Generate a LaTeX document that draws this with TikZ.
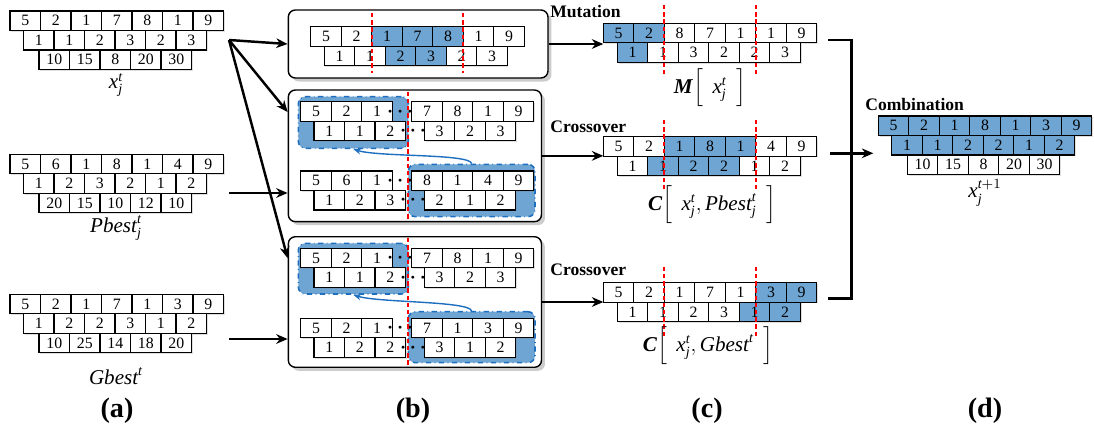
\documentclass[tikz,border=0pt]{standalone}
\usepackage{amsmath}
\usepackage{fontspec}
\setmainfont{Liberation Serif}
\usetikzlibrary{arrows.meta,shadows,calc}
\definecolor{cellblue}{HTML}{6FA5D2}
\definecolor{grpblue}{HTML}{1F6FC0}
\newcommand\mi[1]{\textit{#1}}
% one row of gene cells: name, left x, top y, list of value/style
\newcommand\cellrow[4]{%
  \foreach \val/\sty [count=\i] in {#4}
    \node[cell,\sty] (#1-\i) at ({#2+(\i-0.5)*30.5},{#3+9.75}) {\val};}
\tikzset{
  cell/.style={draw,line width=0.6pt,minimum width=0.61cm,minimum height=0.39cm,inner sep=0pt,outer sep=0pt,
    font=\fontsize{9}{10}\selectfont,drop shadow={shadow xshift=0.7pt,shadow yshift=-0.7pt,opacity=0.25}},
  wc/.style={fill=white},
  bc/.style={fill=cellblue},
  panel/.style={draw,line width=0.8pt,rounded corners=4pt,fill=white,inner sep=0pt,
    drop shadow={shadow xshift=2pt,shadow yshift=-2pt,opacity=0.4}},
  grp/.style={draw=grpblue,dash dot,line width=0.9pt,fill=cellblue,rounded corners=4pt,inner sep=0pt},
  cutline/.style={draw=red,line width=1.2pt,dash pattern=on 2.5pt off 1.6pt},
  arr/.style={-{Stealth[length=6.5pt,width=5.5pt]},line width=1.4pt},
  barr/.style={-{Stealth[length=4.5pt,width=3.5pt]},line width=0.8pt,grpblue},
  dots/.style={inner sep=0pt,font=\fontsize{11}{12}\selectfont\boldmath},
  optag/.style={font=\fontsize{10}{12}\selectfont\bfseries,anchor=west,inner sep=0pt},
  lbl/.style={font=\fontsize{12}{14}\selectfont,inner sep=0pt},
  figtag/.style={font=\fontsize{16}{18}\selectfont\bfseries,inner sep=0pt}
}
\begin{document}
\begin{tikzpicture}[x=0.02cm,y=-0.02cm]
\useasboundingbox (0,0) rectangle (1094,439);

% (a) current, personal best and global best
\cellrow{xa1}{10}{11}{5/wc,2/wc,1/wc,7/wc,8/wc,1/wc,9/wc}
\cellrow{xa2}{23.5}{30.5}{1/wc,1/wc,2/wc,3/wc,2/wc,3/wc}
\cellrow{xa3}{39}{50}{10/wc,15/wc,8/wc,20/wc,30/wc}
\node[lbl] (xlab) at (116,85) {$\mi{x}^{\mi{t}}_{\mi{j}}$};
\cellrow{pa1}{10}{154.3}{5/wc,6/wc,1/wc,8/wc,1/wc,4/wc,9/wc}
\cellrow{pa2}{23.5}{173.8}{1/wc,2/wc,3/wc,2/wc,1/wc,2/wc}
\cellrow{pa3}{39}{193.3}{20/wc,15/wc,10/wc,12/wc,10/wc}
\node[lbl] (plab) at (116,228) {$\mi{Pbest}^{\mi{t}}_{\mi{j}}$};
\cellrow{ga1}{10}{294.3}{5/wc,2/wc,1/wc,7/wc,1/wc,3/wc,9/wc}
\cellrow{ga2}{23.5}{313.8}{1/wc,2/wc,2/wc,3/wc,1/wc,2/wc}
\cellrow{ga3}{39}{333.3}{10/wc,25/wc,14/wc,18/wc,20/wc}
\node[lbl] (glab) at (116,376) {$\mi{Gbest}^{\mi{t}}$};

% (b) panels
\node[panel,minimum width=5.194cm,minimum height=1.36cm] (pM) at (418.15,44) {};
\node[panel,minimum width=5.064cm,minimum height=2.634cm] (pP) at (414.9,155.85) {};
\node[panel,minimum width=5.064cm,minimum height=2.612cm] (pG) at (414.9,302) {};

\cellrow{bm1}{310.7}{26.7}{5/wc,2/wc,1/bc,7/bc,8/bc,1/wc,9/wc}
\cellrow{bm2}{324.2}{46.2}{1/wc,1/wc,2/bc,3/bc,2/wc,3/wc}
\draw[cutline] (371.7,13) -- (371.7,73);
\draw[cutline] (463.2,13) -- (463.2,73);

\node[grp,minimum width=2.2cm,minimum height=1.032cm] (lP) at (353.3,122.5) {};
\node[grp,minimum width=2.534cm,minimum height=1.048cm] (rP) at (471.65,190.5) {};
\cellrow{pA1}{300.7}{101.7}{5/wc,2/wc,1/wc}
\cellrow{pA1r}{411.7}{101.7}{7/wc,8/wc,1/wc,9/wc}
\cellrow{pA2}{314}{121.2}{1/wc,1/wc,2/wc}
\cellrow{pA2r}{424.3}{121.2}{3/wc,2/wc,3/wc}
\cellrow{pB1}{300.7}{171}{5/wc,6/wc,1/wc}
\cellrow{pB1r}{411.7}{171}{8/wc,1/wc,4/wc,9/wc}
\cellrow{pB2}{314}{190.5}{1/wc,2/wc,3/wc}
\cellrow{pB2r}{424.3}{190.5}{2/wc,1/wc,2/wc}
\node[dots] at ($(pA1-3.east)!0.5!(pA1r-1.west)$) {$\cdots$};
\node[dots] at ($(pA2-3.east)!0.5!(pA2r-1.west)$) {$\cdots$};
\node[dots] at ($(pB1-3.east)!0.5!(pB1r-1.west)$) {$\cdots$};
\node[dots] at ($(pB2-3.east)!0.5!(pB2r-1.west)$) {$\cdots$};
\draw[cutline] (407.7,91.7) -- (407.7,220);
\draw[barr] (rP.north) .. controls +(-2,-10) and +(25,8) .. (lP.south);

\node[grp,minimum width=2.2cm,minimum height=1.014cm] (lG) at (353.3,268.65) {};
\node[grp,minimum width=2.534cm,minimum height=1.02cm] (rG) at (471.65,337.2) {};
\cellrow{gA1}{300.7}{248.3}{5/wc,2/wc,1/wc}
\cellrow{gA1r}{411.7}{248.3}{7/wc,8/wc,1/wc,9/wc}
\cellrow{gA2}{314}{267.8}{1/wc,1/wc,2/wc}
\cellrow{gA2r}{424.3}{267.8}{3/wc,2/wc,3/wc}
\cellrow{gB1}{300.7}{318.3}{5/wc,2/wc,1/wc}
\cellrow{gB1r}{411.7}{318.3}{7/wc,1/wc,3/wc,9/wc}
\cellrow{gB2}{314}{337.8}{1/wc,2/wc,2/wc}
\cellrow{gB2r}{424.3}{337.8}{3/wc,1/wc,2/wc}
\node[dots] at ($(gA1-3.east)!0.5!(gA1r-1.west)$) {$\cdots$};
\node[dots] at ($(gA2-3.east)!0.5!(gA2r-1.west)$) {$\cdots$};
\node[dots] at ($(gB1-3.east)!0.5!(gB1r-1.west)$) {$\cdots$};
\node[dots] at ($(gB2-3.east)!0.5!(gB2r-1.west)$) {$\cdots$};
\draw[cutline] (407.7,238) -- (407.7,366.7);
\draw[barr] (rG.north) .. controls +(-2,-10) and +(25,8) .. (lG.south);

% (a) -> (b)
\coordinate (aFan) at (229,40);
\coordinate (aP) at (229,193);
\coordinate (aG) at (229,339);
\draw[arr] (aFan) -- (pM.west);
\draw[arr] (aFan) -- (pP.161);
\draw[arr] (aFan) -- (pG.161);
\draw[arr] (aP) -- (aP -| pP.west);
\draw[arr] (aG) -- (aG -| pG.west);

% (c) offspring
\node[optag] (tM) at (550,12) {Mutation};
\cellrow{cm1}{603.3}{23.3}{5/bc,2/bc,8/wc,7/wc,1/wc,1/wc,9/wc}
\cellrow{cm2}{617.3}{42.8}{1/bc,1/wc,3/wc,2/wc,2/wc,3/wc}
\draw[cutline] (664.3,5) -- (664.3,76.7);
\draw[cutline] (755.8,5) -- (755.8,76.7);
\node[lbl] (mlab) at (710,88) {\textbf{\textit{M}}$\Big[\,\;\mi{x}^{\mi{t}}_{\mi{j}}\,\;\Big]$};

\node[optag] (tP) at (550,127) {Crossover};
\cellrow{cp1}{603.3}{136.7}{5/wc,2/wc,1/bc,8/bc,1/bc,4/wc,9/wc}
\cellrow{cp2}{617.3}{156.2}{1/wc,1/bc,2/bc,2/bc,1/wc,2/wc}
\draw[cutline] (664.3,120) -- (664.3,190);
\draw[cutline] (755.8,120) -- (755.8,190);
\node[lbl] (cplab) at (712,205) {\textbf{\textit{C}}$\Big[\,\;\mi{x}^{\mi{t}}_{\mi{j}},\mi{Pbest}^{\mi{t}}_{\mi{j}}\,\;\Big]$};

\node[optag] (tG) at (550,270) {Crossover};
\cellrow{cg1}{603.3}{282.7}{5/wc,2/wc,1/wc,7/wc,1/wc,3/bc,9/bc}
\cellrow{cg2}{617.3}{302.2}{1/wc,1/wc,2/wc,3/wc,1/bc,2/bc}
\draw[cutline] (664.3,266.7) -- (664.3,338.3);
\draw[cutline] (755.8,266.7) -- (755.8,338.3);
\node[lbl] (cglab) at (708,346) {\textbf{\textit{C}}$\Big[\,\;\mi{x}^{\mi{t}}_{\mi{j}},\mi{Gbest}^{\mi{t}}\,\;\Big]$};

% (b) -> (c)
\draw[arr] (pM.east) -- (pM.east -| cm1-1.west);
\draw[arr] (pP.east) -- (pP.east -| cp1-1.west);
\draw[arr] (pG.east) -- (pG.east -| cg1-1.west);

% (d) combination
\coordinate (bTop) at (828.3,40);
\coordinate (bBot) at (828.3,298.3);
\coordinate (bMid) at (830,153.3);
\coordinate (dIn) at (873.3,153.3);
\draw[line width=1.5pt] (bTop) -- ++(23.4,0) |- (bBot);
\draw[arr] (bMid) -- (dIn);
\node[optag] (tC) at (865,104) {Combination};
\cellrow{d1}{878.3}{116}{5/bc,2/bc,1/bc,8/bc,1/bc,3/bc,9/bc}
\cellrow{d2}{891.8}{135.5}{1/bc,1/bc,2/bc,2/bc,1/bc,2/bc}
\cellrow{d3}{907.3}{155}{10/wc,15/wc,8/wc,20/wc,30/wc}
\node[lbl] (dlab) at (985,193) {$\mi{x}^{\mi{t}+1}_{\mi{j}}$};

% sub-figure tags
\node[figtag] (fa) at (117,411) {(a)};
\node[figtag] (fb) at (413,411) {(b)};
\node[figtag] (fc) at (707,411) {(c)};
\node[figtag] (fd) at (985,411) {(d)};
\end{tikzpicture}
\end{document}
